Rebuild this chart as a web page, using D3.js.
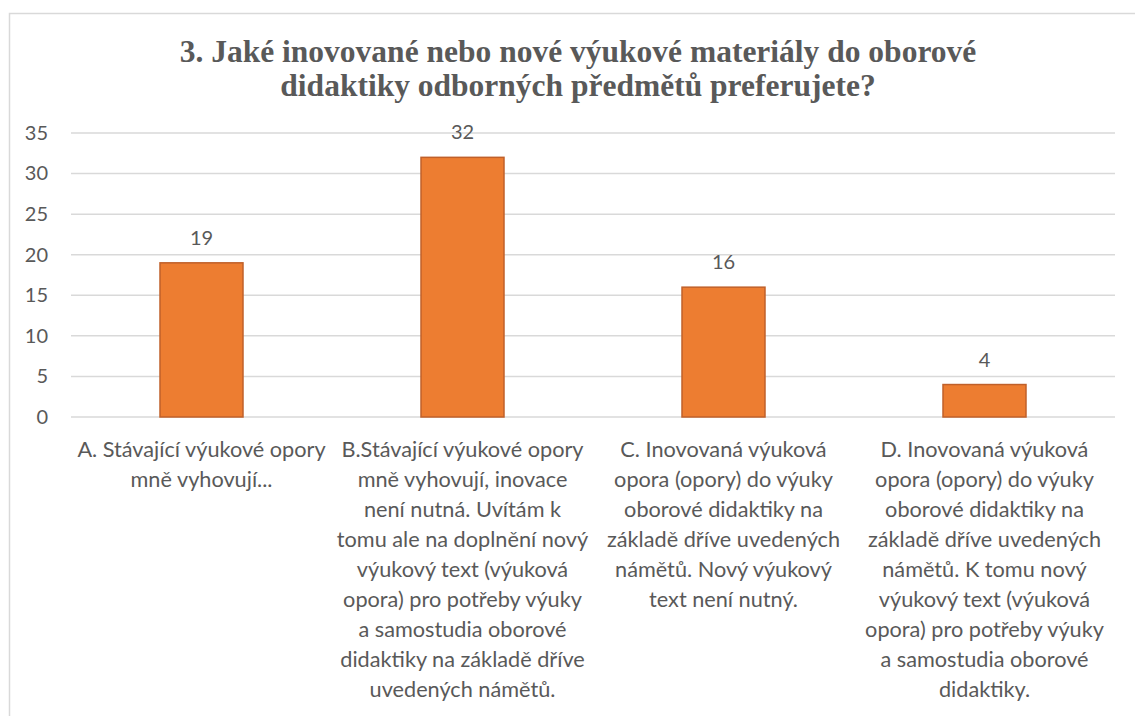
<!DOCTYPE html>
<html>
<head>
<meta charset="utf-8">
<script src="https://cdn.jsdelivr.net/npm/d3@7"></script>
<style>
  body { margin: 0; background: #fff; }
  text { fill: #595959; }
</style>
</head>
<body>
<div id="chart"></div>
<script>
// data
var categories = ["A", "B", "C", "D"];
var values = [19, 32, 16, 4];
var yTicks = [0, 5, 10, 15, 20, 25, 30, 35];
var titleLines = [
  "3. Jaké inovované nebo nové výukové materiály do oborové",
  "didaktiky odborných předmětů preferujete?"
];
var categoryLabels = [
  ["A. Stávající výukové opory", "mně vyhovují..."],
  ["B.Stávající výukové opory", "mně vyhovují, inovace", "není nutná. Uvítám k", "tomu ale na doplnění nový",
   "výukový text (výuková", "opora) pro potřeby výuky", "a samostudia oborové",
   "didaktiky na základě dříve", "uvedených námětů."],
  ["C. Inovovaná výuková", "opora (opory) do výuky", "oborové didaktiky na",
   "základě dříve uvedených", "námětů. Nový výukový", "text není nutný."],
  ["D. Inovovaná výuková", "opora (opory) do výuky", "oborové didaktiky na",
   "základě dříve uvedených", "námětů. K tomu nový", "výukový text (výuková",
   "opora) pro potřeby výuky", "a samostudia oborové", "didaktiky."]
];

var W = 1135, H = 716;
var margin = { top: 133, right: 20, bottom: 299, left: 71 },
  width = W - margin.left - margin.right,
  height = H - margin.top - margin.bottom;

var svg = d3.select("#chart").append("svg")
  .attr("width", W)
  .attr("height", H);

// outer chart border
svg.append("rect")
  .attr("x", 9.5).attr("y", 13.5)
  .attr("width", W + 20).attr("height", H + 20)
  .attr("fill", "none")
  .attr("stroke", "#d9d9d9")
  .attr("stroke-width", 1.5);

// title, two lines
svg.append("g")
  .selectAll("text")
  .data(titleLines)
  .enter().append("text")
  .attr("x", 578)
  .attr("y", function (d, i) { return 62 + i * 34; })
  .attr("text-anchor", "middle")
  .style("font-family", "'Liberation Serif', 'Times New Roman', serif")
  .style("font-weight", "bold")
  .style("font-size", "31.5px")
  .text(function (d) { return d; });

var g = svg.append("g")
  .attr("transform", "translate(" + margin.left + "," + margin.top + ")");

var x = d3.scaleBand()
  .domain(categories)
  .range([0, width])
  .paddingInner(0.682)
  .paddingOuter(0.341);

var y = d3.scaleLinear()
  .domain([0, 35])
  .range([height, 0]);

// gridlines
g.append("g")
  .selectAll("line")
  .data(yTicks)
  .enter().append("line")
  .attr("x1", 0).attr("x2", width)
  .attr("y1", function (d) { return y(d); })
  .attr("y2", function (d) { return y(d); })
  .attr("stroke", "#d9d9d9")
  .attr("stroke-width", 1.5);

// y axis
var yAxis = d3.axisLeft(y).tickValues(yTicks).tickSize(0).tickPadding(23);
g.append("g")
  .call(yAxis)
  .call(function (s) { s.select(".domain").remove(); })
  .selectAll("text")
  .style("font-family", "Lato, 'Open Sans', sans-serif")
  .style("font-size", "20px")
  .style("fill", "#595959");

// bars
g.selectAll(".bar")
  .data(values)
  .enter().append("rect")
  .attr("class", "bar")
  .attr("x", function (d, i) { return x(categories[i]); })
  .attr("y", function (d) { return y(d); })
  .attr("width", x.bandwidth())
  .attr("height", function (d) { return height - y(d); })
  .attr("fill", "#ed7d31")
  .attr("stroke", "#c0602a")
  .attr("stroke-width", 1.5);

// value labels
g.selectAll(".label")
  .data(values)
  .enter().append("text")
  .attr("class", "label")
  .attr("x", function (d, i) { return x(categories[i]) + x.bandwidth() / 2; })
  .attr("y", function (d) { return y(d) - 18; })
  .attr("text-anchor", "middle")
  .style("font-family", "Lato, 'Open Sans', sans-serif")
  .style("font-size", "20px")
  .text(function (d) { return d; });

// category labels
var cat = g.selectAll(".cat")
  .data(categoryLabels)
  .enter().append("text")
  .attr("class", "cat")
  .attr("text-anchor", "middle")
  .attr("transform", function (d, i) {
    return "translate(" + (x(categories[i]) + x.bandwidth() / 2) + "," + (height + 40) + ")";
  })
  .style("font-family", "Lato, 'Open Sans', sans-serif")
  .style("font-size", "21.7px");

cat.selectAll("tspan")
  .data(function (d) { return d; })
  .enter().append("tspan")
  .attr("x", 0)
  .attr("y", function (d, i) { return i * 30; })
  .text(function (d) { return d; });
</script>
</body>
</html>
